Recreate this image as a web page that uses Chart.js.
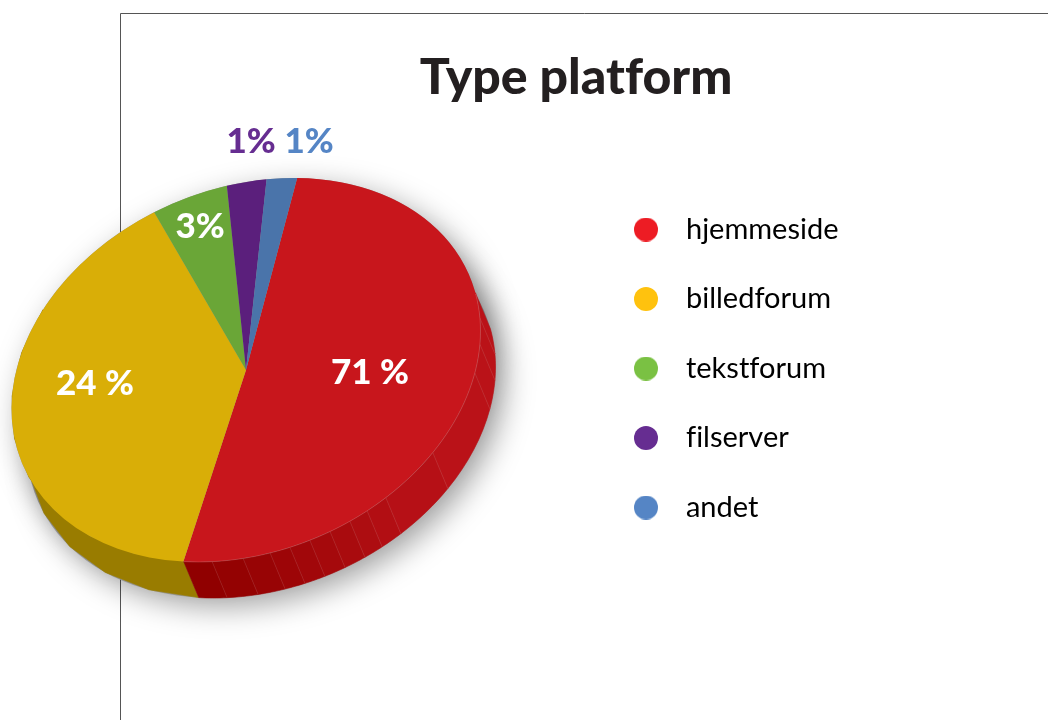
<!DOCTYPE html>
<html>
<head>
<meta charset="utf-8">
<style>
  html, body { margin: 0; padding: 0; background: #fff; }
  #wrap { width: 1048px; height: 720px; }
</style>
</head>
<body>
<div id="wrap"><canvas id="kage" width="1048" height="720"></canvas></div>
<script src="https://cdn.jsdelivr.net/npm/chart.js@4"></script>
<script>
const categories = ["hjemmeside", "billedforum", "tekstforum", "filserver", "andet"];
// printed percentages
const percentLabels = ["71 %", "24 %", "3%", "1%", "1%"];
// share of the circle each slice really covers in the picture (not the same as the printed %)
const sliceShare = [50.8, 39.3, 5.1, 2.7, 2.1];
const sliceColors = ["#c8161c", "#d9ae07", "#6aa637", "#5b1f7c", "#4a74aa"];
const legendColors = ["#ed1c24", "#ffc20e", "#7ac143", "#662d91", "#5585c5"];
const labelColors = ["#ffffff", "#ffffff", "#ffffff", "#662d91", "#5585c5"];
// label offset from the pie centre
const labelOffsets = [[124, 3], [-151, 14], [-46, -143], [5, -228], [63, -228]];
// side facets of the red slice, degrees clockwise from the top of the circle
const redFacets = [195.4, 188.3, 180.7, 174.1, 169.2, 164.2, 159, 153.7, 148.9, 143.4, 127.2, 102.6, 94, 86, 78];

const pieCenter = { x: 246, y: 370 };
const pieShape = { a: 234.5, b: -39, d: 188 };
const depth = { x: 15, y: 36 };

function dot(color) {
  const c = document.createElement("canvas");
  c.width = 24;
  c.height = 24;
  const g = c.getContext("2d");
  g.fillStyle = color;
  g.beginPath();
  g.arc(12, 12, 12, 0, Math.PI * 2);
  g.fill();
  return c;
}

function mix(c1, c2, t) {
  return "rgb(" + c1.map((v, i) => Math.round(v + (c2[i] - v) * t)).join(",") + ")";
}

function getBox(arc) {
  const r = arc.outerRadius;
  const a = pieShape.a / r, b = pieShape.b / r, d = pieShape.d / r;
  return { a, b, d, e: pieCenter.x - a * arc.x, f: pieCenter.y - b * arc.x - d * arc.y };
}

// rim point on the page for a chart.js angle
function rim(arc, ang) {
  const cx = Math.cos(ang), cy = Math.sin(ang);
  return {
    x: pieCenter.x + pieShape.a * cx,
    y: pieCenter.y + pieShape.b * cx + pieShape.d * cy
  };
}

function sideQuad(ctx, arc, a1, a2, color) {
  ctx.beginPath();
  let steps = 8;
  for (let i = 0; i <= steps; i++) {
    const p = rim(arc, a1 + (a2 - a1) * i / steps);
    if (i == 0) ctx.moveTo(p.x, p.y); else ctx.lineTo(p.x, p.y);
  }
  for (let i = steps; i >= 0; i--) {
    const p = rim(arc, a1 + (a2 - a1) * i / steps);
    ctx.lineTo(p.x + depth.x, p.y + depth.y);
  }
  ctx.closePath();
  ctx.fillStyle = color;
  ctx.strokeStyle = color;
  ctx.lineWidth = 0.6;
  ctx.fill();
  ctx.stroke();
}

function deg(d) {
  return (d - 90) * Math.PI / 180;
}

const tiltPie = {
  id: "tiltPie",
  beforeDraw(chart) {
    const ctx = chart.ctx;
    ctx.textRendering = "optimizeSpeed"; // no tf / fi ligatures
    ctx.save();
    ctx.fillStyle = "#fff";
    ctx.fillRect(0, 0, chart.width, chart.height);
    ctx.strokeStyle = "#555";
    ctx.lineWidth = 1;
    ctx.beginPath();
    ctx.moveTo(120.5, 720);
    ctx.lineTo(120.5, 13.5);
    ctx.lineTo(1048, 13.5);
    ctx.stroke();
    ctx.restore();
  },
  beforeDatasetsDraw(chart) {
    const ctx = chart.ctx;
    const arcs = chart.getDatasetMeta(0).data;
    const box = getBox(arcs[0]);
    const first = arcs[0];

    // soft shadow under the whole disc
    ctx.save();
    ctx.shadowColor = "rgba(0,0,0,0.36)";
    ctx.shadowBlur = 30;
    ctx.shadowOffsetX = 9;
    ctx.shadowOffsetY = 9;
    ctx.fillStyle = "#999";
    [[depth.x, depth.y], [0, 0]].forEach(function (off) {
      ctx.beginPath();
      for (let i = 0; i <= 120; i++) {
        const p = rim(first, i / 120 * Math.PI * 2);
        ctx.lineTo(p.x + off[0], p.y + off[1]);
      }
      ctx.closePath();
      ctx.fill();
    });
    ctx.restore();

    // yellow side: from the red border round to the left
    sideQuad(ctx, first, first.endAngle, deg(300), "#997c00");

    // red side, one facet at a time
    const dark = [144, 0, 0], light = [186, 18, 24];
    for (let i = 0; i < redFacets.length - 1; i++) {
      const t = i / (redFacets.length - 5);
      sideQuad(ctx, first, deg(redFacets[i]), deg(redFacets[i + 1]), mix(dark, light, Math.min(t, 1)));
    }
    ctx.save();
    ctx.strokeStyle = "rgba(255,255,255,0.12)";
    ctx.lineWidth = 0.8;
    for (let i = 1; i < redFacets.length - 1; i++) {
      const p = rim(first, deg(redFacets[i]));
      ctx.beginPath();
      ctx.moveTo(p.x, p.y);
      ctx.lineTo(p.x + depth.x, p.y + depth.y);
      ctx.stroke();
    }
    ctx.restore();

    // the slices themselves are drawn by chart.js through this tilt
    ctx.save();
    ctx.transform(box.a, box.b, 0, box.d, box.e, box.f);
  },
  afterDatasetsDraw(chart) {
    const ctx = chart.ctx;
    ctx.restore();
    const first = chart.getDatasetMeta(0).data[0];
    ctx.save();
    // thin light edge along the red rim
    ctx.strokeStyle = "rgba(255,255,255,0.2)";
    ctx.lineWidth = 0.8;
    ctx.beginPath();
    for (let i = 0; i <= 60; i++) {
      const p = rim(first, deg(195.4 - i * 1.95));
      if (i == 0) ctx.moveTo(p.x, p.y); else ctx.lineTo(p.x, p.y);
    }
    ctx.stroke();
    ctx.font = "900 35px Lato";
    ctx.textAlign = "center";
    ctx.textBaseline = "middle";
    percentLabels.forEach(function (txt, i) {
      ctx.fillStyle = labelColors[i];
      ctx.fillText(txt, pieCenter.x + labelOffsets[i][0], pieCenter.y + labelOffsets[i][1]);
    });
    ctx.restore();
  }
};

new Chart(document.getElementById("kage"), {
  type: "pie",
  data: {
    labels: categories,
    datasets: [
      {
        data: sliceShare,
        backgroundColor: sliceColors,
        borderWidth: 0,
        clip: false
      }
    ]
  },
  options: {
    responsive: false,
    animation: false,
    rotation: 12.6,
    layout: {
      padding: { left: 303.5, right: 199.5, top: 0, bottom: 0 }
    },
    plugins: {
      tooltip: { enabled: false },
      title: {
        display: true,
        text: "Type platform",
        color: "#231f20",
        font: { family: "Lato", size: 50, weight: "900" },
        padding: { top: 48, bottom: 66.5 }
      },
      legend: {
        position: "right",
        align: "start",
        fullSize: false,
        labels: {
          usePointStyle: true,
          pointStyleWidth: 51,
          padding: 40.5,
          color: "#231f20",
          font: { family: "Lato", size: 29 },
          generateLabels(chart) {
            return chart.data.labels.map(function (text, i) {
              return { text: text, pointStyle: dot(legendColors[i]), fillStyle: legendColors[i], lineWidth: 0, hidden: false, index: i };
            });
          }
        }
      }
    }
  },
  plugins: [tiltPie]
});
</script>
</body>
</html>
